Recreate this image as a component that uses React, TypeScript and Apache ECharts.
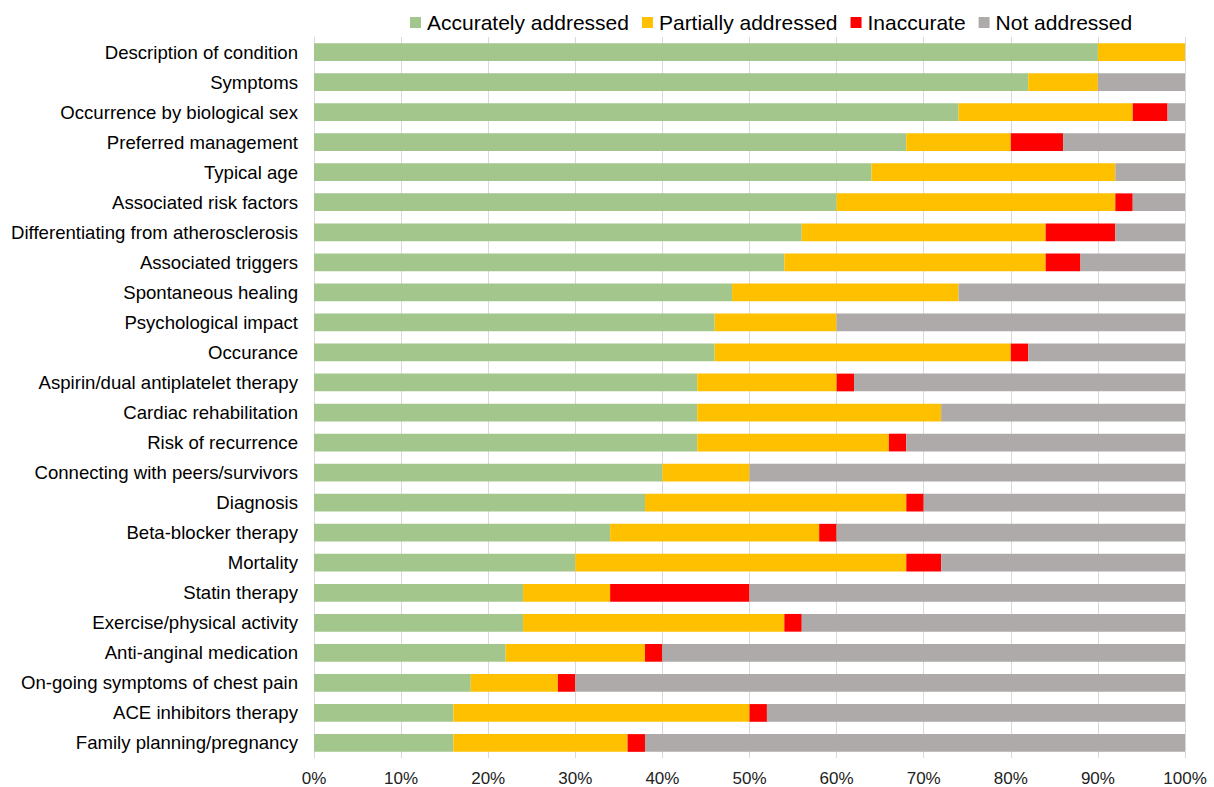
import React, { useEffect, useRef } from "react";
import * as echarts from "echarts";

const categories = [
  "Description of condition",
  "Symptoms",
  "Occurrence by biological sex",
  "Preferred management",
  "Typical age",
  "Associated risk factors",
  "Differentiating from atherosclerosis",
  "Associated triggers",
  "Spontaneous healing",
  "Psychological impact",
  "Occurance",
  "Aspirin/dual antiplatelet therapy",
  "Cardiac rehabilitation",
  "Risk of recurrence",
  "Connecting with peers/survivors",
  "Diagnosis",
  "Beta-blocker therapy",
  "Mortality",
  "Statin therapy",
  "Exercise/physical activity",
  "Anti-anginal medication",
  "On-going symptoms of chest pain",
  "ACE inhibitors therapy",
  "Family planning/pregnancy",
];

const accurately = [90, 82, 74, 68, 64, 60, 56, 54, 48, 46, 46, 44, 44, 44, 40, 38, 34, 30, 24, 24, 22, 18, 16, 16];
const partially = [10, 8, 20, 12, 28, 32, 28, 30, 26, 14, 34, 16, 28, 22, 10, 30, 24, 38, 10, 30, 16, 10, 34, 20];
const inaccurate = [0, 0, 4, 6, 0, 2, 8, 4, 0, 0, 2, 2, 0, 2, 0, 2, 2, 4, 16, 2, 2, 2, 2, 2];
const notAddressed = [0, 10, 2, 14, 8, 6, 8, 12, 26, 40, 18, 38, 28, 32, 50, 30, 40, 28, 50, 44, 60, 70, 48, 62];

const seriesNames = ["Accurately addressed", "Partially addressed", "Inaccurate", "Not addressed"];
const seriesColors = ["#A3C68C", "#FFC000", "#FF0000", "#AEAAAA"];
const xTicks = [0, 10, 20, 30, 40, 50, 60, 70, 80, 90, 100];

export default function App() {
  const ref = useRef<HTMLDivElement>(null);
  useEffect(() => {
    if (!ref.current) return;
    const chart = echarts.init(ref.current, null, { renderer: "svg" });
    const data = [accurately, partially, inaccurate, notAddressed];
    chart.setOption({
      animation: false,
      textStyle: { fontFamily: "Liberation Sans, Arial, sans-serif" },
      legend: {
        left: 405,
        top: 7,
        itemWidth: 11,
        itemHeight: 11,
        itemGap: 13,
        icon: "rect",
        textStyle: { fontSize: 21, color: "#000", padding: [0, 0, 0, 1] },
        data: seriesNames,
      },
      grid: { left: 314, right: 29, top: 37, bottom: 29, containLabel: false },
      xAxis: {
        type: "value",
        min: xTicks[0],
        max: xTicks[xTicks.length - 1],
        interval: 10,
        axisLine: { show: false },
        axisTick: { show: false },
        splitLine: { show: true, lineStyle: { color: "#D9D9D9", width: 1 } },
        axisLabel: {
          formatter: (v: number) => v + "%",
          fontSize: 17,
          color: "#222",
          margin: 12,
        },
      },
      yAxis: {
        type: "category",
        inverse: true,
        data: categories,
        axisLine: { show: true, lineStyle: { color: "#D9D9D9", width: 1 } },
        axisTick: { show: false },
        axisLabel: { fontSize: 18.6, color: "#000", margin: 16 },
      },
      series: seriesNames.map((name, i) => ({
        name,
        type: "bar",
        stack: "total",
        barWidth: "59%",
        itemStyle: { color: seriesColors[i] },
        data: data[i],
      })),
    });
    return () => chart.dispose();
  }, []);
  return <div ref={ref} style={{ width: 1214, height: 787, position: "absolute", left: 0, top: 0 }} />;
}
